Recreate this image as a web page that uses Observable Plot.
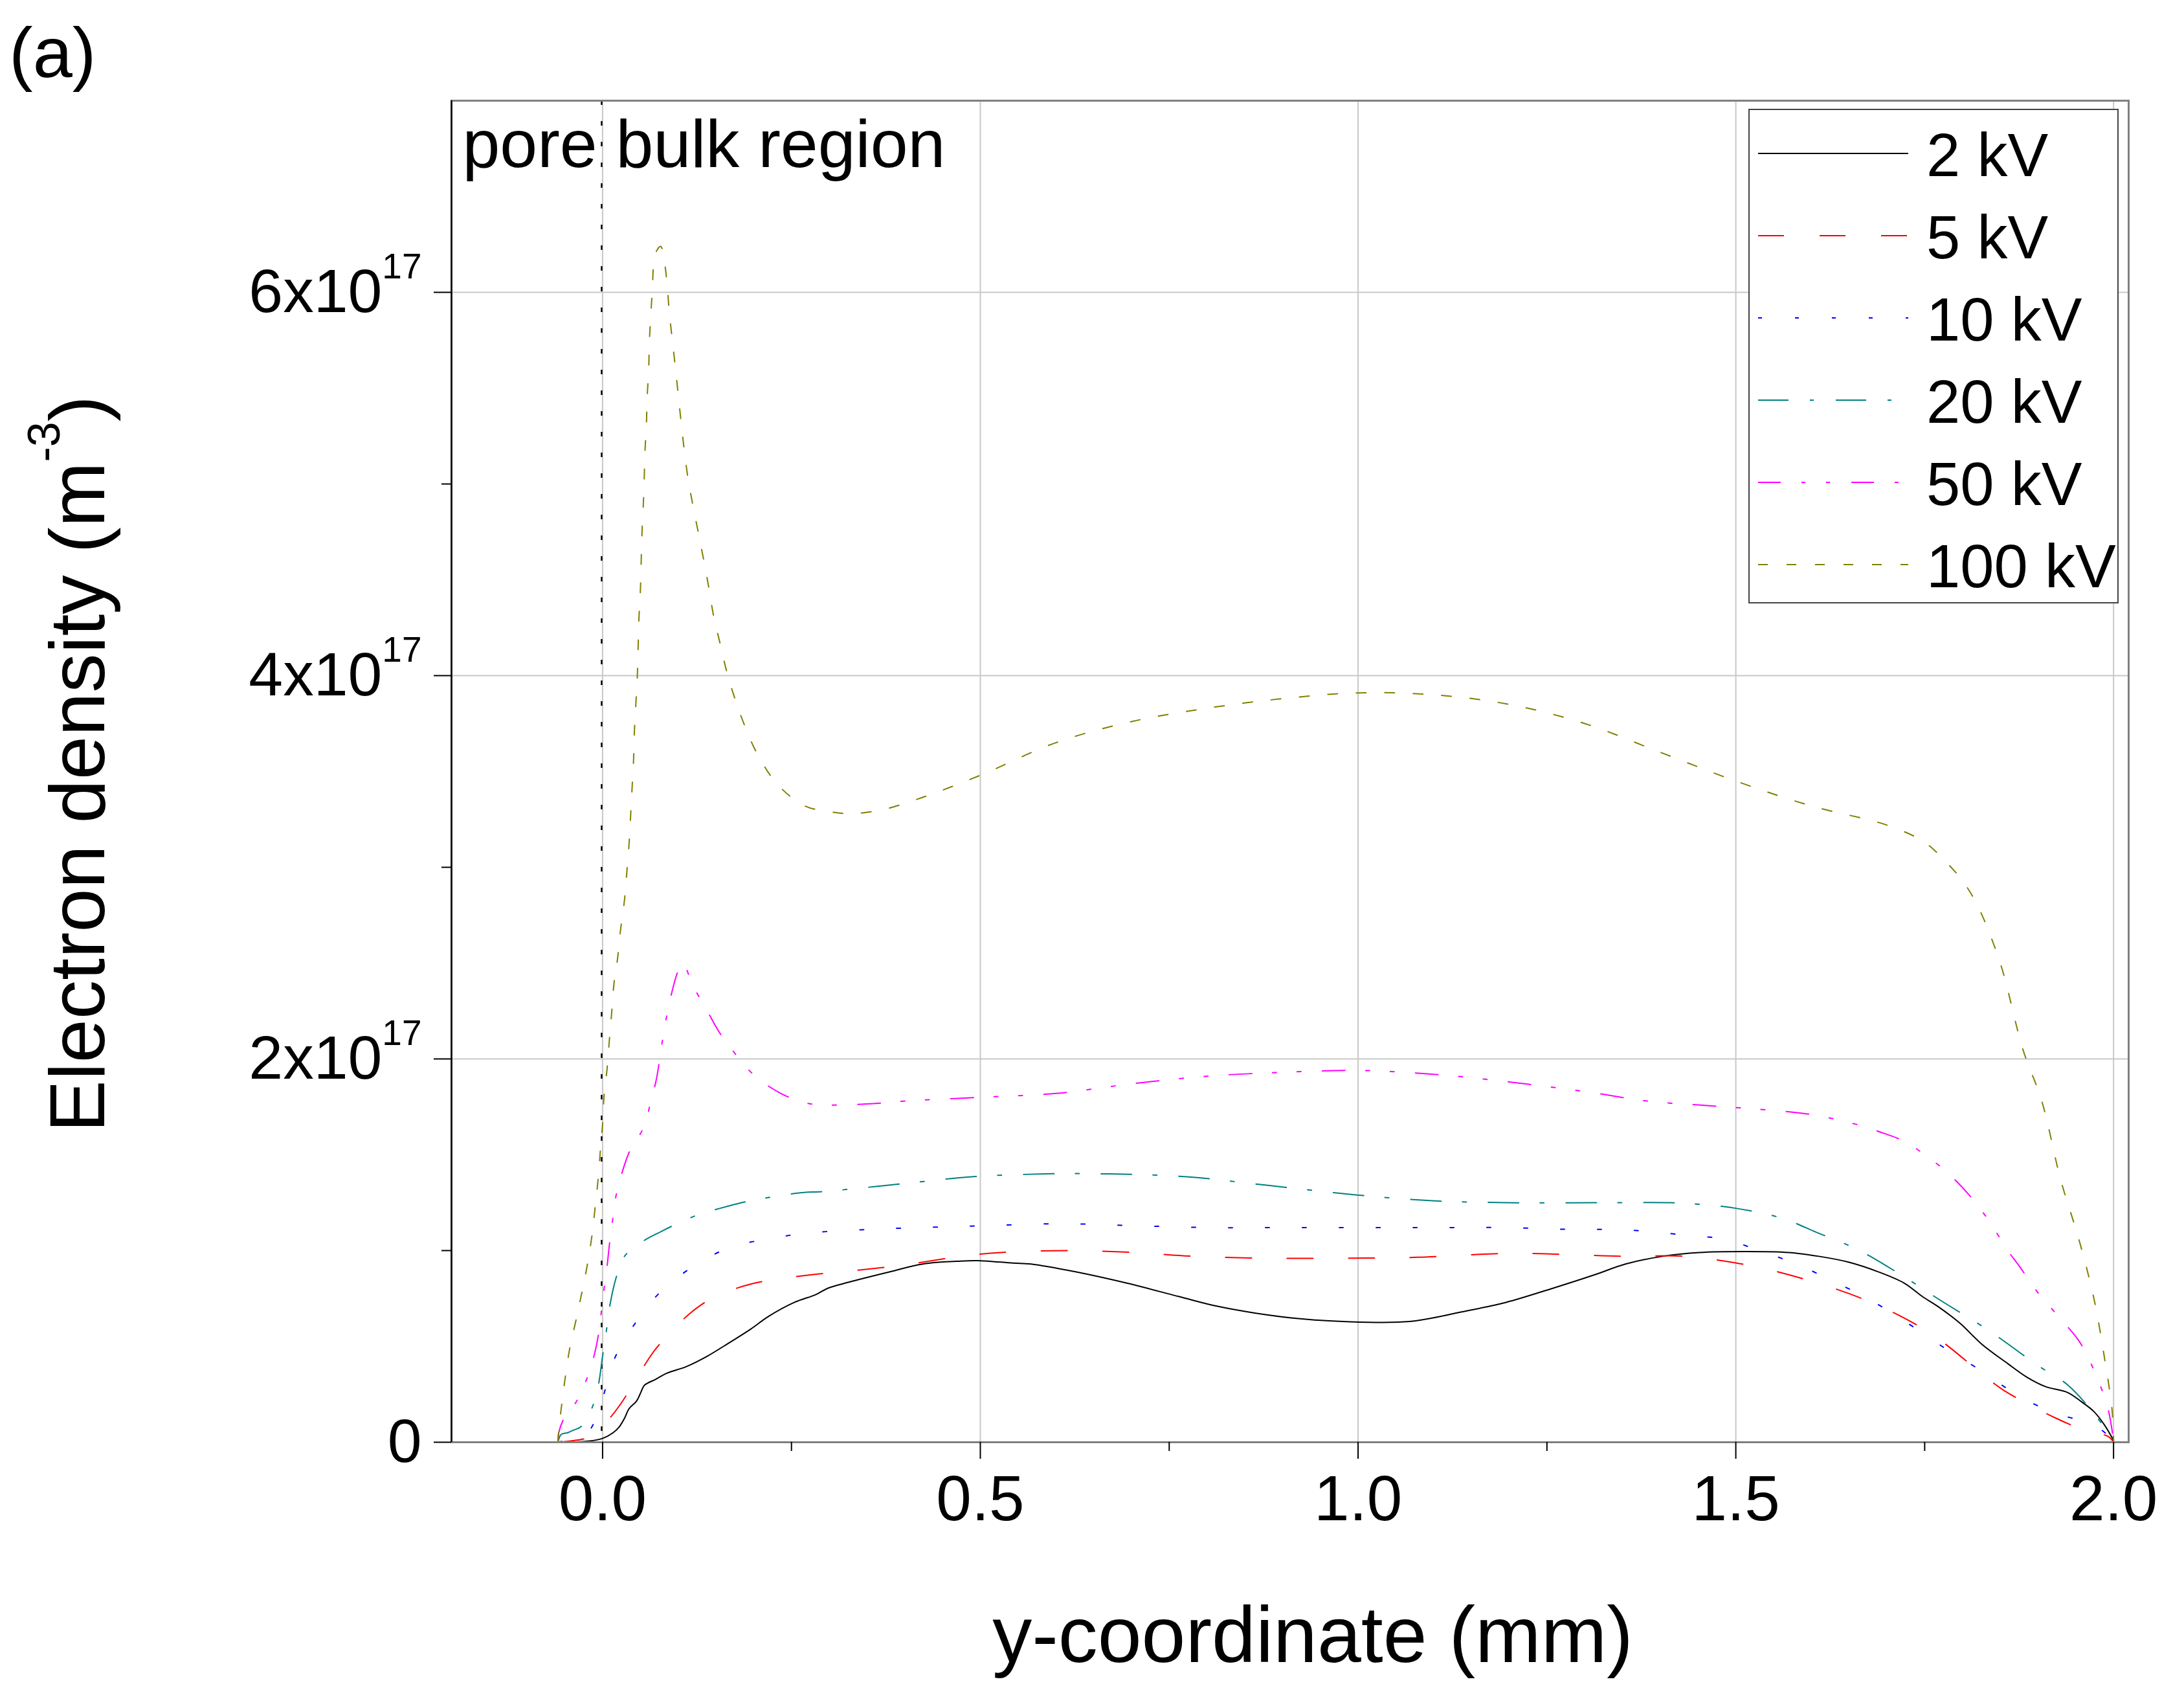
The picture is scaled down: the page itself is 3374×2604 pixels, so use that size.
<!DOCTYPE html>
<html>
<head>
<meta charset="utf-8">
<script src="https://cdn.jsdelivr.net/npm/d3@7"></script>
<script src="https://cdn.jsdelivr.net/npm/@observablehq/plot@0.6"></script>
<style>
  html, body { margin: 0; padding: 0; background: white; }
  #chart { width: 3374px; height: 2604px; }
</style>
</head>
<body>
<div id="chart"></div>
<script>
// ---------------- data (electron density in units of 1e17 m^-3) ----------------
const seriesLabels = ["2 kV", "5 kV", "10 kV", "20 kV", "50 kV", "100 kV"];

const x2kV = [-0.059, -0.021, 0.0, 0.014, 0.022, 0.029, 0.035, 0.045, 0.054, 0.056, 0.071, 0.085, 0.111, 0.139, 0.168, 0.196, 0.219, 0.254, 0.282, 0.299, 0.326, 0.376, 0.424, 0.474, 0.50, 0.543, 0.567, 0.625, 0.694, 0.763, 0.813, 0.862, 0.921, 0.980, 1.068, 1.137, 1.196, 1.255, 1.314, 1.354, 1.403, 1.452, 1.511, 1.570, 1.610, 1.649, 1.688, 1.723, 1.747, 1.767, 1.797, 1.826, 1.860, 1.885, 1.910, 1.939, 1.958, 1.974, 1.988, 2.0];
const n2kV = [0.0, 0.005, 0.02, 0.05, 0.08, 0.125, 0.175, 0.215, 0.29, 0.30, 0.33, 0.36, 0.395, 0.45, 0.52, 0.59, 0.655, 0.73, 0.77, 0.805, 0.835, 0.885, 0.93, 0.945, 0.947, 0.935, 0.93, 0.89, 0.83, 0.76, 0.71, 0.675, 0.645, 0.63, 0.63, 0.68, 0.73, 0.80, 0.875, 0.93, 0.97, 0.99, 0.995, 0.99, 0.97, 0.94, 0.89, 0.83, 0.76, 0.71, 0.62, 0.51, 0.41, 0.34, 0.29, 0.26, 0.21, 0.16, 0.09, 0.01];

const x5kV = [-0.059, -0.036, -0.015, 0.006, 0.024, 0.049, 0.071, 0.115, 0.149, 0.196, 0.230, 0.279, 0.39, 0.474, 0.527, 0.616, 0.704, 0.783, 0.881, 0.980, 1.078, 1.196, 1.275, 1.354, 1.432, 1.521, 1.600, 1.679, 1.757, 1.831, 1.855, 1.924, 1.964, 1.993, 2.0];
const n5kV = [0.0, 0.01, 0.03, 0.11, 0.20, 0.36, 0.49, 0.67, 0.76, 0.825, 0.85, 0.875, 0.92, 0.97, 0.99, 1.00, 0.99, 0.97, 0.96, 0.96, 0.965, 0.985, 0.98, 0.97, 0.97, 0.92, 0.84, 0.73, 0.57, 0.34, 0.27, 0.125, 0.06, 0.03, 0.0];

const x10kV = [-0.059, -0.040, -0.018, 0.0, 0.014, 0.038, 0.073, 0.121, 0.171, 0.219, 0.268, 0.35, 0.42, 0.508, 0.606, 0.704, 0.803, 0.901, 1.0, 1.098, 1.193, 1.290, 1.339, 1.385, 1.434, 1.484, 1.531, 1.580, 1.629, 1.679, 1.728, 1.777, 1.826, 1.875, 1.924, 1.974, 2.0];
const n10kV = [0.0, 0.02, 0.06, 0.23, 0.42, 0.59, 0.77, 0.92, 1.02, 1.06, 1.09, 1.11, 1.12, 1.13, 1.14, 1.13, 1.12, 1.12, 1.12, 1.12, 1.12, 1.11, 1.11, 1.10, 1.08, 1.06, 1.00, 0.93, 0.84, 0.74, 0.62, 0.49, 0.37, 0.24, 0.15, 0.09, 0.01];

const x20kV = [-0.059, -0.055, -0.046, -0.038, -0.029, -0.015, -0.006, 0.0, 0.005, 0.009, 0.018, 0.029, 0.054, 0.078, 0.093, 0.122, 0.155, 0.195, 0.225, 0.258, 0.298, 0.4, 0.488, 0.586, 0.670, 0.773, 0.881, 0.999, 1.098, 1.196, 1.324, 1.413, 1.457, 1.501, 1.560, 1.610, 1.664, 1.728, 1.767, 1.836, 1.900, 1.939, 1.974, 2.0];
const n20kV = [0.0, 0.04, 0.05, 0.064, 0.08, 0.17, 0.29, 0.45, 0.58, 0.70, 0.86, 0.97, 1.05, 1.10, 1.13, 1.18, 1.22, 1.26, 1.28, 1.30, 1.31, 1.35, 1.385, 1.40, 1.40, 1.385, 1.34, 1.29, 1.26, 1.25, 1.25, 1.25, 1.24, 1.22, 1.17, 1.09, 1.00, 0.85, 0.75, 0.58, 0.40, 0.30, 0.15, 0.01];

const x50kV = [-0.059, -0.058, -0.051, -0.035, -0.022, -0.012, -0.006, -0.002, 0.002, 0.006, 0.009, 0.013, 0.018, 0.026, 0.036, 0.054, 0.064, 0.071, 0.076, 0.081, 0.090, 0.100, 0.106, 0.120, 0.140, 0.156, 0.177, 0.202, 0.236, 0.269, 0.298, 0.35, 0.4, 0.5, 0.6, 0.7, 0.8, 0.9, 1.0, 1.1, 1.2, 1.3, 1.383, 1.45, 1.521, 1.600, 1.658, 1.690, 1.723, 1.757, 1.782, 1.811, 1.836, 1.860, 1.875, 1.900, 1.924, 1.954, 1.969, 1.983, 1.993, 2.0];
const n50kV = [0.0, 0.05, 0.125, 0.21, 0.32, 0.44, 0.55, 0.67, 0.80, 0.92, 1.03, 1.15, 1.29, 1.41, 1.52, 1.64, 1.78, 1.89, 2.01, 2.14, 2.32, 2.46, 2.50, 2.38, 2.24, 2.13, 2.02, 1.91, 1.82, 1.77, 1.76, 1.765, 1.78, 1.80, 1.82, 1.87, 1.91, 1.93, 1.94, 1.92, 1.88, 1.83, 1.78, 1.76, 1.74, 1.71, 1.66, 1.62, 1.57, 1.48, 1.40, 1.28, 1.15, 1.00, 0.92, 0.78, 0.67, 0.53, 0.42, 0.29, 0.17, 0.01];

const x100kV = [-0.059, -0.058, -0.054, -0.049, -0.043, -0.035, -0.027, -0.020, -0.014, -0.010, -0.006, -0.003, 0.0, 0.002, 0.006, 0.009, 0.012, 0.015, 0.020, 0.024, 0.029, 0.032, 0.035, 0.037, 0.039, 0.041, 0.042, 0.044, 0.046, 0.047, 0.048, 0.050, 0.051, 0.052, 0.054, 0.055, 0.056, 0.058, 0.059, 0.061, 0.062, 0.064, 0.066, 0.068, 0.072, 0.077, 0.081, 0.085, 0.088, 0.092, 0.096, 0.100, 0.104, 0.108, 0.113, 0.119, 0.127, 0.134, 0.141, 0.147, 0.156, 0.165, 0.176, 0.189, 0.205, 0.232, 0.268, 0.30, 0.33, 0.37, 0.42, 0.5, 0.6, 0.7, 0.8, 0.9, 1.0, 1.1, 1.2, 1.3, 1.4, 1.5, 1.6, 1.7, 1.75, 1.78, 1.80, 1.82, 1.85, 1.88, 1.905, 1.930, 1.954, 1.974, 1.988, 1.998, 2.0];
const n100kV = [0.0, 0.06, 0.20, 0.35, 0.50, 0.64, 0.79, 0.93, 1.08, 1.22, 1.37, 1.52, 1.66, 1.81, 1.95, 2.10, 2.24, 2.39, 2.53, 2.68, 2.83, 2.97, 3.12, 3.26, 3.41, 3.56, 3.70, 3.85, 4.00, 4.14, 4.29, 4.44, 4.58, 4.73, 4.90, 5.01, 5.16, 5.31, 5.45, 5.60, 5.75, 5.89, 6.03, 6.16, 6.22, 6.24, 6.18, 6.06, 5.91, 5.76, 5.62, 5.47, 5.32, 5.18, 5.03, 4.90, 4.74, 4.60, 4.45, 4.31, 4.16, 4.01, 3.87, 3.73, 3.59, 3.43, 3.32, 3.29, 3.28, 3.30, 3.36, 3.48, 3.65, 3.76, 3.83, 3.88, 3.91, 3.90, 3.85, 3.75, 3.60, 3.45, 3.32, 3.22, 3.13, 3.02, 2.93, 2.80, 2.50, 2.05, 1.78, 1.37, 1.06, 0.75, 0.44, 0.17, 0.01];

const xValues = [x2kV, x5kV, x10kV, x20kV, x50kV, x100kV];
const nValues = [n2kV, n5kV, n10kV, n20kV, n50kV, n100kV];

// axes
const xDomain = [-0.2, 2.02];
const yDomain = [0, 7];
const xTicksMajor = [0, 0.5, 1.0, 1.5, 2.0];
const xTicksMinor = [0.25, 0.75, 1.25, 1.75];
const yTicksMajor = [0, 2, 4, 6];
const yTicksMinor = [1, 3, 5];
const yTickLabels = ["0", "2x10^17", "4x10^17", "6x10^17"];
const yGridTicks = [2, 4, 6];
const xTitle = "y-coordinate (mm)";
const yTitleMain = "Electron density (m";
const yTitleSup = "-3";
const regionNote = "pore bulk region";
const panelLabel = "(a)";

// ---------------- styles ----------------
const FONT = "'Liberation Sans', Arial, Helvetica, sans-serif";
const seriesColors = ["#000000", "#ff0000", "#0000ff", "#008080", "#ff00ff", "#808000"];
const seriesDash = [null, "40,55", "6,51", "47,33,6,34", "35,32,6,32,6,33", "15,29"];

const tables = seriesLabels.map((s, i) => xValues[i].map((x, j) => ({x, n: nValues[i][j], series: s})));

const lineMarks = tables.map((t, i) => Plot.line(t, {
  x: "x", y: "n", stroke: seriesColors[i], strokeWidth: 2,
  strokeDasharray: seriesDash[i] || undefined, curve: "catmull-rom"
}));

const chart = Plot.plot({
  width: 3374,
  height: 2604,
  marginLeft: 697,
  marginRight: 86,
  marginTop: 155,
  marginBottom: 377,
  style: {fontFamily: FONT, background: "white", color: "black", overflow: "visible"},
  x: {domain: xDomain},
  y: {domain: yDomain},
  marks: [
    Plot.gridX({ticks: xTicksMajor, stroke: "#c8c8c8", strokeOpacity: 1, strokeWidth: 2}),
    Plot.gridY({ticks: yGridTicks, stroke: "#c8c8c8", strokeOpacity: 1, strokeWidth: 2}),
    Plot.ruleX([0], {stroke: "black", strokeWidth: 2.5, strokeDasharray: "7,25", dx: -1.5}),
    ...lineMarks,
    Plot.frame({stroke: "#808080", strokeWidth: 3}),
    Plot.ruleX([xDomain[0]], {stroke: "black", strokeWidth: 2.5}),
    Plot.axisX({ticks: xTicksMajor, tickSize: 26, tickPadding: 25, fontSize: 98,
      tickFormat: d3.format(".1f"), label: null, strokeWidth: 2}),
    Plot.axisX({ticks: xTicksMinor, tickSize: 14, tickFormat: () => "", label: null, strokeWidth: 2}),
    Plot.axisY({ticks: yTicksMajor, tickSize: 27, tickPadding: 19, fontSize: 95,
      tickFormat: d => yTickLabels[yTicksMajor.indexOf(d)], label: null, strokeWidth: 2}),
    Plot.axisY({ticks: yTicksMinor, tickSize: 15, tickFormat: () => "", label: null, strokeWidth: 2}),
    Plot.text([regionNote], {text: d => d, frameAnchor: "top-left", dx: 17, dy: 29,
      lineAnchor: "top", textAnchor: "start", fontSize: 104, fill: "black"}),
    Plot.text([xTitle], {text: d => d, frameAnchor: "bottom", dx: 35, dy: 253,
      lineAnchor: "top", textAnchor: "middle", fontSize: 122, fill: "black"})
  ]
});

document.getElementById("chart").appendChild(chart);

// ---------------- post-processing: superscripts, titles, legend ----------------
const NS = "http://www.w3.org/2000/svg";
const svg = chart.tagName.toLowerCase() === "svg" ? chart : chart.querySelector("svg");

svg.querySelectorAll("text").forEach(t => {
  const s = t.textContent;
  if (s.includes("^")) {
    const [base, sup] = s.split("^");
    t.textContent = base;
    const ts = document.createElementNS(NS, "tspan");
    ts.setAttribute("dy", "-52");
    ts.setAttribute("font-size", "55");
    ts.textContent = sup;
    t.appendChild(ts);
  }
});

function el(name, attrs, parent) {
  const e = document.createElementNS(NS, name);
  for (const k in attrs) e.setAttribute(k, attrs[k]);
  (parent || svg).appendChild(e);
  return e;
}

// y-axis title with superscript
const yt = el("text", {transform: "translate(161,1180) rotate(-90)", "text-anchor": "middle",
  "font-size": 121, "font-family": FONT, fill: "black"});
yt.appendChild(document.createTextNode(yTitleMain));
const ys1 = el("tspan", {dy: "-69", "font-size": 70}, yt); ys1.textContent = yTitleSup;
const ys2 = el("tspan", {dy: "69", "font-size": 121}, yt); ys2.textContent = ")";

// panel label
const pl = el("text", {x: 14, y: 119, "font-size": 110, "font-family": FONT, fill: "black",
  "text-anchor": "start"});
pl.textContent = panelLabel;

// legend
const lg = el("g", {"font-family": FONT, "text-anchor": "start"});
el("rect", {x: 2702, y: 169, width: 570, height: 762, fill: "white", stroke: "#444", "stroke-width": 2}, lg);
seriesLabels.forEach((s, i) => {
  const ry = 237 + 127 * i;
  const ln = el("line", {x1: 2716, x2: 2948, y1: ry, y2: ry, stroke: seriesColors[i], "stroke-width": 2}, lg);
  if (seriesDash[i]) ln.setAttribute("stroke-dasharray", seriesDash[i]);
  const tx = el("text", {x: 2976, y: ry + 35, "font-size": 94, fill: "black", "text-anchor": "start"}, lg);
  tx.textContent = s;
});
</script>
</body>
</html>
